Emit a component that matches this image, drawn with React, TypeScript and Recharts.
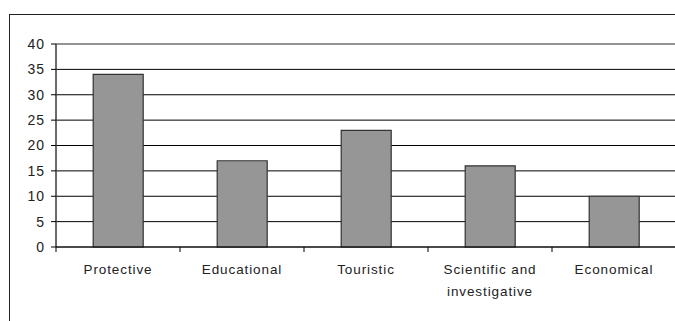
import React from "react";
import { BarChart, Bar, XAxis, YAxis, CartesianGrid, ReferenceArea } from "recharts";

const categories = ["Protective", "Educational", "Touristic", "Scientific and investigative", "Economical"];
const labelLines = [["Protective"], ["Educational"], ["Touristic"], ["Scientific and", "investigative"], ["Economical"]];
const values = [34, 17, 23, 16, 10];
const yTicks = [0, 5, 10, 15, 20, 25, 30, 35, 40];

const data = categories.map((c, i) => ({ name: c, value: values[i], idx: i }));

const FONT = "'Liberation Sans', Arial, sans-serif";

const XTick = (props: any) => {
  const { x, y, payload, index, width, visibleTicksCount } = props;
  const n = visibleTicksCount || categories.length;
  const half = (width || 619) / n / 2;
  const lines = labelLines[index] || [payload.value];
  const axisY = y - 8;
  return (
    <g>
      <line x1={x - half} x2={x - half} y1={axisY} y2={axisY + 5} stroke="#000" strokeWidth={1} />
      {index === n - 1 && (
        <line x1={x + half} x2={x + half} y1={axisY} y2={axisY + 5} stroke="#000" strokeWidth={1} />
      )}
      <text x={x} y={y} textAnchor="middle" fontFamily={FONT} fontSize={13.5} fill="#222" letterSpacing={0.9}>
        {lines.map((l: string, i: number) => (
          <tspan key={i} x={x} dy={i === 0 ? 19 : 22}>{l}</tspan>
        ))}
      </text>
    </g>
  );
};

export default function App() {
  return (
    <div style={{ position: "absolute", left: 0, top: 0, width: 675, height: 321, background: "#fff", overflow: "hidden" }}>
      <div style={{ position: "absolute", left: 9, top: 14, width: 700, height: 400, borderLeft: "1px solid #222", borderTop: "1px solid #222" }} />
      <div style={{ position: "absolute", left: 0, top: 0 }}>
        <BarChart width={676} height={321} data={data} margin={{ top: 44, right: 0, bottom: 14, left: 0 }} barCategoryGap="30%">
          <CartesianGrid vertical={false} horizontal={true} stroke="#000" strokeWidth={1} />
          <ReferenceArea y1={0} y2={40} fill="none" stroke="#aaa" strokeWidth={1} ifOverflow="visible" />
          <YAxis
            domain={[0, 40]}
            ticks={yTicks}
            width={56}
            tickSize={5}
            tickMargin={6}
            interval={0}
            axisLine={{ stroke: "#000" }}
            tickLine={{ stroke: "#000" }}
            tick={{ fontFamily: FONT, fontSize: 14, fill: "#222", letterSpacing: 1 }}
          />
          <XAxis
            dataKey="name"
            height={60}
            interval={0}
            tickLine={false}
            axisLine={{ stroke: "#000" }}
            tick={<XTick />}
          />
          <Bar dataKey="value" fill="#969696" stroke="#333" strokeWidth={1.2} isAnimationActive={false} />
        </BarChart>
      </div>
    </div>
  );
}
